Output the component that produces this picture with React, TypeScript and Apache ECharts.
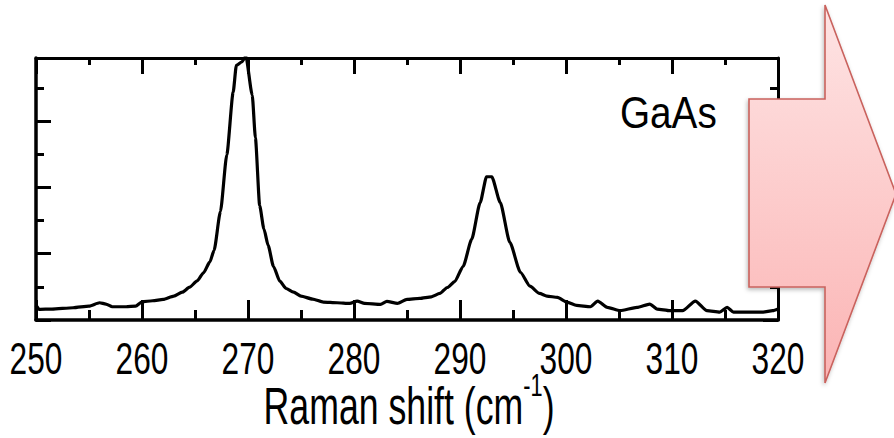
import React, { useEffect, useRef } from "react";
import * as echarts from "echarts";

// Raman spectrum of GaAs: wavenumber (cm^-1) and intensity (arb. units)
const ramanShift = [
  250.0, 250.3, 251.5, 253.5, 255.0, 256.0, 256.6, 257.2, 258.5, 259.4,
  260.0, 261.0, 262.0, 263.0, 263.8, 264.5, 265.2, 265.8, 266.4, 266.8,
  267.4, 268.0, 268.6, 268.9, 269.4, 269.8, 270.4, 270.7, 271.1, 271.5,
  271.9, 272.4, 273.0, 273.6, 274.3, 275.0, 276.1, 277.1, 278.4, 279.6,
  280.3, 281.0, 282.5, 283.1, 284.1, 285.0, 286.2, 287.3, 288.1, 288.8,
  289.5, 290.3, 291.1, 291.9, 292.5, 293.0, 293.8, 294.7, 295.7, 296.6,
  297.5, 298.2, 299.2, 300.1, 301.0, 302.3, 303.0, 303.9, 305.1, 306.7,
  307.9, 308.6, 309.8, 311.0, 312.2, 313.3, 314.5, 315.2, 315.8, 318.6,
  319.5, 320.0,
];
const intensity = [
  0.45, 0.32, 0.33, 0.37, 0.42, 0.52, 0.48, 0.40, 0.40, 0.42,
  0.55, 0.58, 0.62, 0.72, 0.84, 0.99, 1.18, 1.42, 1.75, 2.10,
  3.27, 4.98, 6.87, 7.68, 7.78, 7.95, 6.78, 5.49, 3.45, 2.75,
  2.25, 1.62, 1.17, 0.95, 0.84, 0.72, 0.63, 0.54, 0.52, 0.50,
  0.57, 0.50, 0.47, 0.56, 0.50, 0.62, 0.65, 0.70, 0.80, 0.98,
  1.16, 1.62, 2.43, 3.54, 4.32, 4.32, 3.54, 2.34, 1.44, 1.02,
  0.80, 0.72, 0.68, 0.54, 0.44, 0.40, 0.57, 0.38, 0.28, 0.38,
  0.48, 0.33, 0.28, 0.28, 0.57, 0.28, 0.24, 0.38, 0.24, 0.24,
  0.28, 0.33,
];

// Tick values labelled under the x axis
const xTicks = [250, 260, 270, 280, 290, 300, 310, 320];

const xMin = 250;
const xMax = 320;
const xStep = 10;
const yMin = 0;
const yMax = 7.9;

const FONT = "'Liberation Sans', Arial, sans-serif";
const INK = "#000";
// condensed look of the original lettering
const NARROW = 0.72;

export default function App() {
  const ref = useRef<HTMLDivElement>(null);

  useEffect(() => {
    if (!ref.current) return;
    const chart = echarts.init(ref.current, undefined, { renderer: "svg" });

    const points = ramanShift.map((x, i) => [x, intensity[i]]);

    const xCommon = {
      type: "value" as const,
      min: xMin,
      max: xMax,
      interval: xStep,
      splitLine: { show: false },
      axisLabel: { show: false },
    };

    const yAxis = (position: "left" | "right", interval: number, len: number, line: boolean, lw: number) => ({
      type: "value" as const,
      position,
      min: yMin,
      max: yMax,
      interval,
      axisLine: { show: line, onZero: false, lineStyle: { color: INK, width: lw } },
      axisTick: { show: true, inside: true, length: len, lineStyle: { color: INK, width: 3 } },
      axisLabel: { show: false },
      splitLine: { show: false },
    });

    const arrow = {
      type: "polygon",
      z: 20,
      shape: {
        points: [
          [749, 99],
          [825, 99],
          [825, 5],
          [896, 194],
          [825, 383],
          [825, 287],
          [749, 287],
        ],
      },
      style: {
        fill: new echarts.graphic.LinearGradient(0, 0, 0, 1, [
          { offset: 0, color: "#fee4e4" },
          { offset: 1, color: "#fbb4b4" },
        ]),
        stroke: "#c9625d",
        lineWidth: 1.6,
        shadowBlur: 4,
        shadowOffsetX: -1,
        shadowOffsetY: 2,
        shadowColor: "rgba(0,0,0,0.28)",
      },
    };

    chart.setOption({
      animation: false,
      backgroundColor: "#fff",
      grid: { left: 36, right: 116, top: 58, bottom: 118, outerBoundsMode: "none" },
      xAxis: [
        {
          ...xCommon,
          position: "bottom",
          axisLine: { show: true, onZero: false, lineStyle: { color: INK, width: 3.5 } },
          axisTick: { show: true, inside: true, length: 20, lineStyle: { color: INK, width: 3 } },
          minorTick: { show: true, splitNumber: 2, length: 10, lineStyle: { color: INK, width: 3 } },
        },
        {
          ...xCommon,
          position: "top",
          axisLine: { show: true, onZero: false, lineStyle: { color: INK, width: 3 } },
          axisTick: { show: true, inside: true, length: 16, lineStyle: { color: INK, width: 3 } },
          minorTick: { show: true, splitNumber: 2, length: 7, lineStyle: { color: INK, width: 3 } },
        },
      ],
      yAxis: [
        yAxis("left", 1, 8, true, 3.5),
        yAxis("left", 2, 15, false, 3.5),
        yAxis("right", 1, 8, true, 3),
        yAxis("right", 2, 15, false, 3),
      ],
      series: [
        {
          type: "line",
          xAxisIndex: 0,
          yAxisIndex: 0,
          data: points,
          showSymbol: false,
          smooth: 0.2,
          smoothMonotone: "x",
          clip: true,
          lineStyle: { color: INK, width: 3.2 },
        },
      ],
    });

    // Tick labels and axis title placed from the axis scale, drawn condensed
    const left = chart.convertToPixel({ xAxisIndex: 0 }, xMin) as number;
    const right = chart.convertToPixel({ xAxisIndex: 0 }, xMax) as number;
    const tickTexts = xTicks.map((v) => ({
      type: "text",
      x: chart.convertToPixel({ xAxisIndex: 0 }, v) as number,
      y: 359,
      scaleX: NARROW,
      z: 5,
      style: {
        text: String(v),
        fontSize: 44,
        fontFamily: FONT,
        fill: INK,
        align: "center",
        verticalAlign: "middle",
      },
    }));

    chart.setOption({
      graphic: [
        ...tickTexts,
        {
          type: "text",
          x: (left + right) / 2 + 2,
          y: 406,
          scaleX: 0.7,
          z: 5,
          style: {
            text: "{a|Raman shift (cm}{b|-1}{a|)}",
            fill: INK,
            align: "center",
            verticalAlign: "middle",
            rich: {
              a: { fontSize: 51, fontFamily: FONT, fill: INK },
              b: { fontSize: 31, fontFamily: FONT, fill: INK, lineHeight: 26, padding: [0, 0, 40, 0] },
            },
          },
        },
        {
          type: "text",
          x: 620,
          y: 112,
          scaleX: 0.86,
          z: 10,
          style: {
            text: "GaAs",
            fontSize: 45,
            fontFamily: FONT,
            fill: INK,
            align: "left",
            verticalAlign: "middle",
          },
        },
        arrow,
      ],
    });

    return () => chart.dispose();
  }, []);

  return (
    <div
      ref={ref}
      style={{ position: "absolute", left: 0, top: 0, width: 894, height: 438 }}
    />
  );
}
